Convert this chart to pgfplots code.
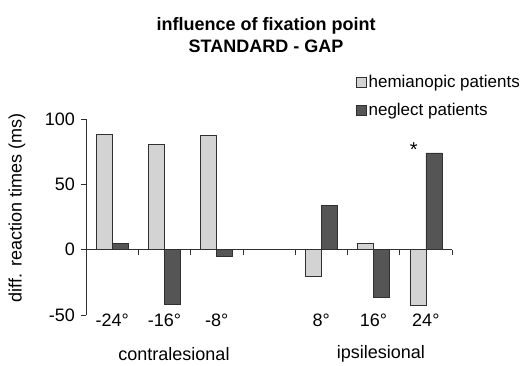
\documentclass[border=0pt]{standalone}
\usepackage{fontspec}
\setmainfont{Liberation Sans}
\usepackage{pgfplots}
\pgfplotsset{compat=1.18}
\definecolor{hemi}{HTML}{D3D3D3}
\definecolor{negl}{HTML}{555555}
\definecolor{edge}{HTML}{303030}
\begin{document}
\fontsize{18}{21.6}\selectfont
\begin{tikzpicture}
\useasboundingbox (0,0) rectangle (520pt,365pt);
\begin{axis}[
  at={(86pt,50pt)}, anchor=south west,
  scale only axis, width=366pt, height=196pt,
  xmin=-0.5, xmax=6.5, ymin=-50, ymax=100,
  axis x line=middle, axis y line=left,
  axis line style={-, color=edge, line width=0.6pt},
  hide obscured x ticks=false, hide obscured y ticks=false,
  ytick={-50,0,50,100},
  xtick={0,...,6},
  xticklabels={-24°,-16°,-8°,,8°,16°,24°},
  minor xtick={0.5,1.5,...,6.5},
  major x tick style={draw=none},
  tick align=outside,
  major tick length=5pt, minor tick length=5pt,
  tick style={edge, line width=0.6pt},
  x tick label style={yshift=-53pt, font=\fontsize{18}{21.6}\selectfont},
  y tick label style={font=\fontsize{18}{21.6}\selectfont},
  /pgf/number format/assume math mode=true,
  ylabel={diff. reaction times (ms)},
  every axis y label/.style={at={(axis description cs:-0.1885,0.546)}, rotate=90, anchor=center, font=\fontsize{18}{21.6}\selectfont},
  title={influence of fixation point\\STANDARD - GAP},
  every axis title/.style={at={(axis description cs:0.492,1.55)}, anchor=north, align=center, font=\bfseries\fontsize{18}{21.6}\selectfont},
  ybar=0pt, bar width=16pt,
  clip=false,
  legend style={at={(axis description cs:0.729,1.245)}, anchor=north west, draw=none, fill=none, font=\fontsize{17}{20}\selectfont, row sep=9pt},
  legend cell align=left,
  legend image code/.code={\draw[#1] (-2pt,-5pt) rectangle (8pt,5pt);},
]
\addplot[fill=hemi, draw=edge, line width=0.6pt] coordinates {(0,88.5) (1,80.5) (2,87.7) (4,-20) (5,5) (6,-42.5)};
\addplot[fill=negl, draw=edge, line width=0.6pt] coordinates {(0,5) (1,-42) (2,-5) (4,34) (5,-36.5) (6,74)};
\legend{hemianopic patients, neglect patients}
\node[anchor=center, font=\fontsize{18}{21.6}\selectfont] at (axis cs:1.183,-80) {contralesional};
\node[anchor=center, font=\fontsize{18}{21.6}\selectfont] at (axis cs:5.14,-80) {ipsilesional};
\node[anchor=base, font=\fontsize{20}{24}\selectfont, inner sep=0pt] at (axis cs:5.77,71) {*};
\end{axis}
\end{tikzpicture}
\end{document}
